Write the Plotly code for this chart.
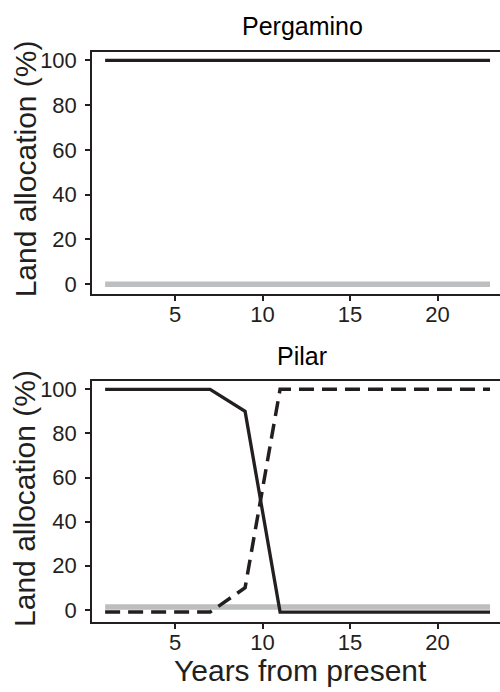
import plotly.graph_objects as go

years = [1, 3, 5, 7, 9, 11, 13, 15, 17, 19, 21, 23]
perg_solid = [100] * 12
perg_gray = [0] * 12
pilar_solid = [100, 100, 100, 100, 90, -1, -1, -1, -1, -1, -1, -1]
pilar_dashed = [-1, -1, -1, -1, 10, 100, 100, 100, 100, 100, 100, 100]
pilar_gray = [1.3] * 12
panel_titles = ["Pergamino", "Pilar"]
x_ticks = [5, 10, 15, 20]
y_ticks = [0, 20, 40, 60, 80, 100]

DARK = "#231f20"
GRAY = "#bcbec0"
FONT = "Liberation Sans, Arial, sans-serif"
W, H = 500, 692

fig = go.Figure()
# top panel
fig.add_trace(go.Scatter(x=years, y=perg_gray, mode="lines", line=dict(color=GRAY, width=5.5), xaxis="x", yaxis="y", showlegend=False))
fig.add_trace(go.Scatter(x=years, y=perg_solid, mode="lines", line=dict(color=DARK, width=3.3), xaxis="x", yaxis="y", showlegend=False))
# bottom panel
fig.add_trace(go.Scatter(x=years, y=pilar_gray, mode="lines", line=dict(color=GRAY, width=5.5), xaxis="x2", yaxis="y2", showlegend=False))
fig.add_trace(go.Scatter(x=years, y=pilar_dashed, mode="lines", line=dict(color=DARK, width=3.5, dash="15px,8px"), xaxis="x2", yaxis="y2", showlegend=False))
fig.add_trace(go.Scatter(x=years, y=pilar_solid, mode="lines", line=dict(color=DARK, width=3.3), xaxis="x2", yaxis="y2", showlegend=False))

def px_y(p):
    return 1 - p / H

xdom = [92 / W, 1.0]
common_x = dict(range=[0.25, 23.57], tickvals=x_ticks, ticks="outside", ticklen=5, tickwidth=1.5,
                tickcolor=DARK, showline=True, linecolor=DARK, linewidth=1.5, mirror=True,
                showgrid=False, zeroline=False, tickfont=dict(family=FONT, size=22, color=DARK),
                ticklabelstandoff=-5, domain=xdom)
common_y = dict(tickvals=y_ticks, ticks="outside", ticklen=5, tickwidth=1.5, tickcolor=DARK,
                showline=True, linecolor=DARK, linewidth=1.5, mirror=False, showgrid=False,
                zeroline=False, tickfont=dict(family=FONT, size=22, color=DARK),
                ticklabelstandoff=4)

fig.update_layout(
    width=W, height=H, margin=dict(l=0, r=0, t=0, b=0),
    paper_bgcolor="white", plot_bgcolor="white",
    xaxis=dict(common_x, anchor="y"),
    yaxis=dict(common_y, range=[-4.4, 104], domain=[px_y(293), px_y(48)], anchor="x"),
    xaxis2=dict(common_x, anchor="y2"),
    yaxis2=dict(common_y, range=[-5.5, 103.7], domain=[px_y(624.3), px_y(381)], anchor="x2"),
)

ann = []
for title, yc in zip(panel_titles, [22, 356]):
    ann.append(dict(text=title, x=302 / W, y=px_y(yc), xref="paper", yref="paper",
                    xanchor="center", yanchor="middle", showarrow=False,
                    font=dict(family=FONT, size=25, color="black")))
for yc in [167, 500]:
    ann.append(dict(text="Land allocation (%)", x=25 / W, y=px_y(yc), xref="paper", yref="paper",
                    xanchor="center", yanchor="middle", textangle=-90, showarrow=False,
                    font=dict(family=FONT, size=30, color=DARK)))
ann.append(dict(text="Years from present", x=300 / W, y=px_y(673), xref="paper", yref="paper",
                xanchor="center", yanchor="middle", showarrow=False,
                font=dict(family=FONT, size=30, color=DARK)))
fig.update_layout(annotations=ann)

fig.write_html("out.html")
